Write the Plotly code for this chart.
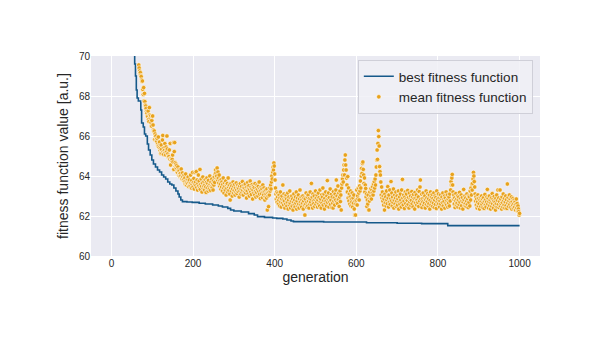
import plotly.graph_objects as go

# Best fitness per generation (step changes: generation, value)
best_gen = [55, 57, 59, 61, 63, 66, 72, 74, 78, 81, 84, 88, 91, 95, 99, 103, 108, 113,
            118, 123, 128, 133, 138, 143, 148, 153, 158, 163, 166, 170, 174, 185, 198,
            215, 230, 248, 262, 272, 285, 292, 300, 318, 336, 350, 358, 375, 395, 405,
            420, 430, 440, 446, 520, 625, 700, 760, 824, 1000]
best_val = [70.3, 69.6, 69.0, 68.3, 67.9, 67.75, 67.3, 66.65, 66.45, 66.1, 66.0, 65.6,
            65.3, 65.05, 64.8, 64.6, 64.45, 64.3, 64.2, 64.05, 63.95, 63.85, 63.7, 63.6,
            63.55, 63.4, 63.25, 63.1, 62.95, 62.8, 62.72, 62.7, 62.68, 62.64, 62.6, 62.55,
            62.5, 62.45, 62.38, 62.3, 62.25, 62.2, 62.12, 62.05, 61.97, 61.93, 61.9, 61.88,
            61.85, 61.8, 61.75, 61.72, 61.7, 61.66, 61.64, 61.62, 61.52, 61.52]

# Mean fitness of the population, one value per generation from 67 onward
mean_fitness = [
    69.55, 69.40, 69.25, 69.13, 69.17, 69.02, 68.97, 68.80, 68.72, 68.75, 68.33, 68.08, 68.42, 67.75, 68.13, 67.72, 67.55, 67.50, 67.38, 67.22,
    67.13, 67.00, 66.97, 67.25, 66.83, 66.72, 67.42, 67.05, 66.90, 67.00, 66.67, 66.50, 66.78, 66.97, 67.00, 66.55, 66.30, 66.22, 66.25, 65.83,
    66.10, 65.97, 66.00, 65.80, 65.72, 65.88, 65.60, 65.50, 65.95, 65.50, 65.42, 65.70, 65.30, 65.38, 65.13, 65.55, 65.33, 65.13, 65.80, 66.03,
    65.22, 65.08, 65.40, 65.28, 65.62, 65.17, 65.05, 65.45, 65.25, 66.00, 65.35, 65.10, 64.95, 65.00, 64.97, 65.30, 64.85, 65.63, 64.55, 64.90,
    64.78, 64.88, 64.83, 65.05, 64.70, 65.67, 64.33, 65.22, 65.67, 64.67, 64.47, 64.60, 64.40, 64.52, 64.22, 64.17, 64.45, 64.30, 64.05, 64.25,
    64.10, 63.98, 64.13, 64.00, 64.35, 63.90, 63.85, 64.15, 63.95, 63.80, 63.83, 64.05, 63.72, 63.90, 63.60, 64.10, 63.75, 63.55, 63.67, 63.85,
    63.62, 63.95, 63.48, 63.70, 63.80, 63.55, 63.50, 64.05, 63.65, 63.40, 63.78, 63.58, 64.18, 63.45, 63.67, 63.88, 63.35, 63.60, 64.17, 63.70,
    63.52, 64.22, 63.42, 63.80, 63.30, 63.62, 64.05, 63.50, 63.75, 63.40, 64.33, 63.33, 63.58, 63.85, 63.48, 63.20, 63.65, 63.95, 63.38, 63.50,
    63.72, 63.30, 63.55, 63.82, 63.45, 63.18, 63.68, 63.90, 63.40, 63.62, 63.25, 63.78, 63.50, 63.35, 64.00, 63.58, 63.28, 63.70, 63.48, 63.85,
    63.42, 63.60, 63.30, 63.75, 63.55, 63.95, 63.68, 64.10, 64.30, 64.15, 63.88, 64.00, 64.40, 63.80, 64.20, 63.90, 63.65, 64.05, 63.50, 63.78,
    63.60, 63.35, 63.82, 63.45, 63.70, 63.25, 63.58, 63.90, 63.40, 63.15, 63.65, 63.48, 63.30, 63.75, 63.05, 63.55, 63.38, 63.62, 63.20, 63.90,
    63.45, 63.28, 63.55, 63.10, 62.80, 63.40, 63.62, 63.25, 63.50, 63.00, 63.35, 63.70, 63.15, 63.48, 63.28, 63.58, 63.05, 63.40, 63.20, 63.65,
    63.30, 63.12, 63.45, 63.55, 63.22, 63.38, 62.95, 63.50, 63.25, 63.62, 63.10, 63.35, 63.48, 63.18, 63.72, 63.28, 63.05, 63.42, 63.55, 63.20,
    63.38, 63.60, 63.15, 63.30, 62.90, 63.45, 63.25, 63.68, 63.10, 63.40, 63.52, 63.00, 63.32, 63.75, 63.20, 63.45, 63.08, 63.35, 63.58, 62.85,
    63.30, 63.50, 63.15, 63.42, 63.05, 63.62, 63.25, 62.95, 63.40, 63.18, 63.55, 63.32, 63.00, 63.48, 63.22, 63.70, 63.10, 63.38, 62.88, 63.28,
    63.45, 63.12, 63.35, 62.92, 63.55, 63.20, 63.05, 63.40, 63.25, 62.80, 62.97, 63.30, 63.10, 62.90, 63.35, 62.30, 63.15, 63.00, 62.47, 63.20,
    63.05, 63.40, 63.25, 63.55, 63.35, 63.70, 64.00, 63.85, 64.20, 64.45, 64.30, 64.65, 64.50, 64.10, 63.80, 63.40, 63.10, 62.85, 63.20, 62.70,
    62.95, 63.15, 62.60, 62.80, 63.05, 62.50, 62.90, 63.20, 62.70, 62.45, 62.85, 63.00, 62.65, 63.55, 62.80, 62.55, 63.10, 62.75, 62.40, 62.95,
    62.60, 63.05, 62.85, 62.50, 62.70, 63.15, 62.35, 62.80, 62.95, 62.55, 63.25, 62.65, 62.40, 62.90, 62.75, 63.00, 62.50, 62.85, 62.30, 62.70,
    63.10, 62.55, 62.80, 62.45, 62.95, 62.65, 63.20, 62.35, 62.75, 62.90, 62.50, 63.05, 62.60, 62.40, 62.85, 63.30, 62.70, 62.55, 62.95, 62.45,
    62.80, 62.65, 63.00, 62.35, 62.75, 62.90, 62.55, 62.05, 62.85, 62.60, 63.15, 62.45, 62.70, 62.95, 62.50, 63.05, 62.75, 62.40, 62.88, 62.60,
    63.20, 62.70, 62.85, 63.63, 62.55, 62.95, 62.40, 63.10, 62.75, 62.62, 63.00, 62.48, 62.82, 63.25, 62.58, 62.90, 62.70, 63.05, 62.45, 62.80,
    63.15, 62.60, 62.92, 62.50, 63.30, 62.72, 62.85, 62.40, 63.05, 62.65, 62.95, 63.40, 62.55, 62.78, 63.10, 62.35, 62.88, 62.62, 63.20, 62.75,
    62.50, 63.00, 63.77, 62.68, 62.85, 63.15, 62.45, 62.92, 62.70, 63.35, 62.58, 62.80, 63.08, 62.42, 62.95, 62.65, 62.40, 63.22, 62.75, 62.90,
    62.55, 63.10, 62.80, 63.30, 63.80, 62.70, 63.00, 62.62, 63.50, 62.85, 63.15, 62.48, 62.95, 63.25, 62.72, 63.05, 62.30, 63.40, 63.60, 63.85,
    64.05, 63.70, 64.30, 64.55, 64.05, 64.80, 65.05, 64.55, 64.30, 63.90, 63.55, 63.20, 63.97, 62.90, 63.40, 62.75, 63.10, 62.60, 62.95, 63.25,
    62.50, 62.85, 62.70, 63.15, 62.45, 62.90, 62.65, 63.05, 62.35, 62.05, 62.75, 62.05, 62.60, 62.80, 63.30, 62.55, 63.00, 62.85, 63.40, 63.15,
    62.80, 63.50, 63.25, 63.75, 63.40, 64.00, 64.38, 64.13, 64.63, 64.70, 64.33, 64.05, 63.63, 63.90, 63.20, 63.55, 63.38, 62.95, 63.10, 62.47,
    62.80, 62.60, 63.05, 62.30, 62.30, 62.75, 63.20, 62.90, 63.35, 63.00, 62.85, 63.30, 63.15, 63.47, 63.05, 63.60, 63.25, 63.72, 63.40, 63.85,
    63.55, 64.05, 64.45, 64.80, 65.30, 64.83, 65.63, 66.27, 65.97, 65.50, 64.47, 64.22, 64.05, 63.70, 63.05, 63.45, 62.90, 63.20, 62.75, 63.00,
    62.55, 62.85, 62.30, 63.10, 62.65, 62.95, 62.50, 63.25, 62.80, 62.62, 63.47, 62.90, 62.45, 63.05, 62.70, 63.30, 62.58, 62.85, 63.72, 62.75,
    63.15, 62.50, 62.95, 62.68, 63.35, 62.40, 62.80, 63.05, 62.60, 62.90, 63.20, 62.48, 62.75, 63.00, 62.55, 62.85, 63.25, 62.35, 62.70, 62.95,
    62.60, 63.10, 62.80, 62.45, 63.30, 62.65, 63.83, 62.90, 62.55, 63.05, 62.75, 62.38, 62.95, 63.20, 62.62, 62.85, 63.10, 62.50, 62.78, 63.28,
    62.58, 62.92, 62.40, 63.15, 62.70, 62.85, 63.00, 62.52, 62.78, 63.22, 62.62, 62.95, 62.45, 63.08, 62.72, 62.88, 62.35, 63.18, 62.65, 62.90,
    63.05, 62.55, 62.80, 63.30, 62.68, 62.95, 62.48, 63.22, 62.75, 63.45, 63.80, 62.85, 62.60, 63.10, 62.42, 62.88, 62.70, 63.15, 62.55, 62.92,
    62.65, 63.00, 62.40, 62.82, 63.25, 62.58, 62.90, 62.72, 63.12, 62.50, 62.85, 62.62, 63.05, 62.35, 62.78, 63.20, 62.55, 62.95, 62.70, 63.08,
    62.48, 62.88, 62.65, 63.15, 62.42, 62.80, 63.00, 62.58, 62.92, 62.38, 63.25, 62.70, 62.85, 62.55, 63.10, 62.62, 62.90, 62.45, 62.75, 63.05,
    62.60, 62.88, 62.35, 62.95, 62.68, 63.15, 62.50, 62.82, 62.72, 63.00, 62.40, 62.90, 62.62, 63.20, 62.55, 62.78, 63.05, 62.45, 62.85, 62.65,
    62.95, 62.50, 63.10, 62.75, 63.30, 63.72, 63.55, 63.90, 64.08, 63.55, 63.20, 62.85, 63.05, 62.60, 62.90, 62.42, 62.78, 63.12, 62.55, 62.85,
    62.65, 63.00, 62.45, 62.80, 62.95, 62.58, 63.18, 62.70, 62.40, 62.88, 63.05, 62.52, 62.75, 62.92, 62.35, 62.68, 63.33, 62.82, 62.55, 63.00,
    62.62, 62.90, 62.48, 62.75, 63.10, 62.58, 62.85, 62.42, 63.00, 62.68, 62.95, 62.50, 63.25, 62.80, 63.40, 63.05, 63.60, 63.30, 63.63, 63.85,
    64.18, 64.00, 63.72, 63.45, 63.10, 62.75, 62.95, 62.55, 62.85, 62.40, 62.70, 63.05, 62.50, 62.88, 62.62, 62.35, 62.80, 62.95, 62.48, 62.72,
    63.00, 62.58, 62.85, 62.42, 62.68, 62.92, 62.38, 62.75, 63.08, 62.55, 62.82, 62.45, 62.70, 62.95, 63.33, 62.60, 62.88, 62.40, 62.72, 63.00,
    62.52, 62.80, 62.35, 62.65, 62.90, 62.48, 63.12, 62.62, 62.85, 62.40, 62.75, 62.98, 62.55, 62.70, 62.30, 62.88, 62.60, 63.05, 62.45, 62.78,
    63.30, 62.58, 62.90, 62.42, 62.72, 63.30, 62.50, 62.85, 62.62, 62.35, 62.95, 62.68, 62.45, 63.10, 62.78, 62.55, 62.88, 62.40, 62.70, 63.00,
    62.52, 62.82, 62.38, 63.60, 62.65, 62.92, 62.48, 62.75, 63.05, 62.58, 62.85, 62.42, 62.68, 62.95, 62.35, 62.72, 62.55, 62.88, 62.40, 62.62,
    62.80, 62.45, 62.70, 62.30, 62.58, 62.85, 62.40, 62.62, 62.25, 62.50, 62.35, 62.22, 62.05, 62.13,
]
first_generation = 67
generation = list(range(first_generation, first_generation + len(mean_fitness)))

x_ticks = [0, 200, 400, 600, 800, 1000]
y_ticks = [60, 62, 64, 66, 68, 70]

FONT = "Liberation Sans, Arial, Helvetica, sans-serif"
TEXT = "#262626"

fig = go.Figure()
fig.add_trace(go.Scatter(
    x=best_gen, y=best_val, mode="lines", name="best fitness function",
    line=dict(color="#15598a", width=1.6, shape="hv"),
))
fig.add_trace(go.Scatter(
    x=generation, y=mean_fitness, mode="markers", name="mean fitness function",
    marker=dict(color="#e8a21c", size=4.5, line=dict(color="white", width=0.6)),
))

fig.update_layout(
    width=600, height=338,
    margin=dict(l=91, r=60, t=56, b=82),
    paper_bgcolor="white",
    plot_bgcolor="#eaeaf2",
    font=dict(family=FONT, color=TEXT),
    showlegend=True,
    legend=dict(
        x=0.984, y=0.98, xanchor="right", yanchor="top",
        bgcolor="rgba(240,240,246,0.85)", bordercolor="#cfcfd8", borderwidth=1,
        font=dict(size=13.5, color=TEXT, family=FONT),
        tracegroupgap=0, itemsizing="trace",
    ),
    xaxis=dict(
        range=[-50, 1050], tickvals=x_ticks, showgrid=True, gridcolor="white",
        gridwidth=1.2, zeroline=False, showline=False, ticks="",
        tickfont=dict(size=10, color=TEXT),
        title=dict(text="generation", font=dict(size=14, color=TEXT), standoff=4),
    ),
    yaxis=dict(
        range=[60, 70], tickvals=y_ticks, showgrid=True, gridcolor="white",
        gridwidth=1.2, zeroline=False, showline=False, ticks="",
        tickfont=dict(size=10, color=TEXT),
        title=dict(text="fitness function value [a.u.]", font=dict(size=14, color=TEXT), standoff=6),
    ),
)

fig.write_html("out.html")
